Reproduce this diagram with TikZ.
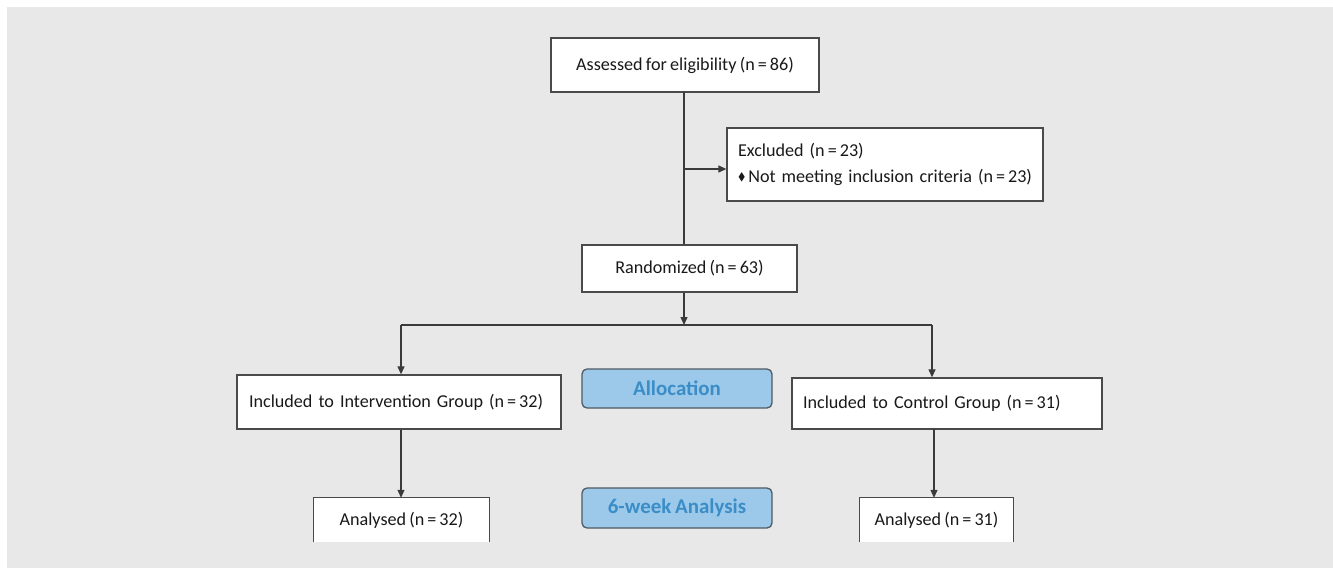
\documentclass[tikz,border=0pt]{standalone}
\usepackage{amssymb}
\usepackage{fontspec}
\setmainfont{Carlito}[WordSpace=0.8]
\usetikzlibrary{arrows.meta}
\definecolor{bg}{HTML}{E8E8E8}
\definecolor{boxline}{HTML}{4A4A4A}
\definecolor{conn}{HTML}{3A3A3A}
\definecolor{bluefill}{HTML}{9CC9EA}
\definecolor{bluetext}{HTML}{3A8DC6}
\definecolor{blueline}{HTML}{4E5A64}
\tikzset{
  every node/.style={font=\fontsize{18.2}{26}\selectfont, text=black!90},
  flowbox/.style={draw=boxline, line width=1.3bp, fill=white, inner sep=0pt, minimum height=54bp},
  phase/.style={draw=blueline, line width=1.3bp, fill=bluefill, rounded corners=5bp,
    minimum width=190bp, minimum height=39bp, inner sep=0pt,
    font=\fontsize{21}{24}\selectfont\bfseries, text=bluetext},
  conline/.style={draw=conn, line width=1.2bp},
  arr/.style={conline, -{Triangle[length=8bp,width=7bp]}}
}
\newcommand{\nval}[1]{(n\,=\,#1)}
\begin{document}
\begin{tikzpicture}[x=1bp,y=-1bp]
\useasboundingbox (0,0) rectangle (1333,568);
\fill[white] (0,0) rectangle (1333,568);
\fill[bg] (7,7) rectangle (1333,568);

\node[flowbox, minimum width=268bp] (assess) at (685,65) {Assessed for eligibility \nval{86}};
\node[flowbox, minimum width=316bp, minimum height=73bp, inner xsep=11bp, text width=294bp, align=left] (excl) at (885,164.5)
  {\mbox{Excluded \nval{23}}\\\mbox{{\fontsize{11}{11}\selectfont\raisebox{2bp}{$\blacklozenge$}}\,Not meeting inclusion criteria \nval{23}}};
\node[flowbox, minimum width=215bp, minimum height=47bp] (rand) at (689.5,268.5) {Randomized \nval{63}};
\node[flowbox, minimum width=324bp, inner xsep=12bp, text width=300bp, align=left] (interv) at (399,402) {\mbox{Included to Intervention Group \nval{32}}};
\node[flowbox, minimum width=310bp, minimum height=51bp, inner xsep=11bp, text width=288bp, align=left] (ctrl) at (947,403.5) {\mbox{Included to Control Group \nval{31}}};
\node[phase] (alloc) at (677,388.5) {Allocation};
\node[phase, minimum height=40bp] (six) at (677,508) {6-week Analysis};
\node[fill=white, minimum width=175bp, minimum height=44bp, inner sep=0pt] (an1) at (401.5,520) {Analysed \nval{32}};
\node[fill=white, minimum width=153bp, minimum height=44bp, inner sep=0pt] (an2) at (936.5,520) {Analysed \nval{31}};
\draw[draw=boxline, line width=1.3bp] (an1.south west) -- (an1.north west) -- (an1.north east) -- (an1.south east);
\draw[draw=boxline, line width=1.3bp] (an2.south west) -- (an2.north west) -- (an2.north east) -- (an2.south east);

\coordinate (top) at (684,92);
\coordinate (br) at (684,169);
\coordinate (split) at (684,325);
\coordinate (L) at (401,325);
\coordinate (R) at (932,325);

\draw[conline] (top) -- (top |- rand.north);
\draw[arr] (br) -- (excl.west |- br);
\draw[arr] (split |- rand.south) -- (split);
\draw[conline] (L) -- (R);
\draw[arr] (L) -- (L |- interv.north);
\draw[arr] (R) -- (R |- ctrl.north);
\draw[arr] (L |- interv.south) -- (L |- an1.north);
\draw[arr] (934,429) coordinate (cs) -- (cs |- an2.north);
\end{tikzpicture}
\end{document}
